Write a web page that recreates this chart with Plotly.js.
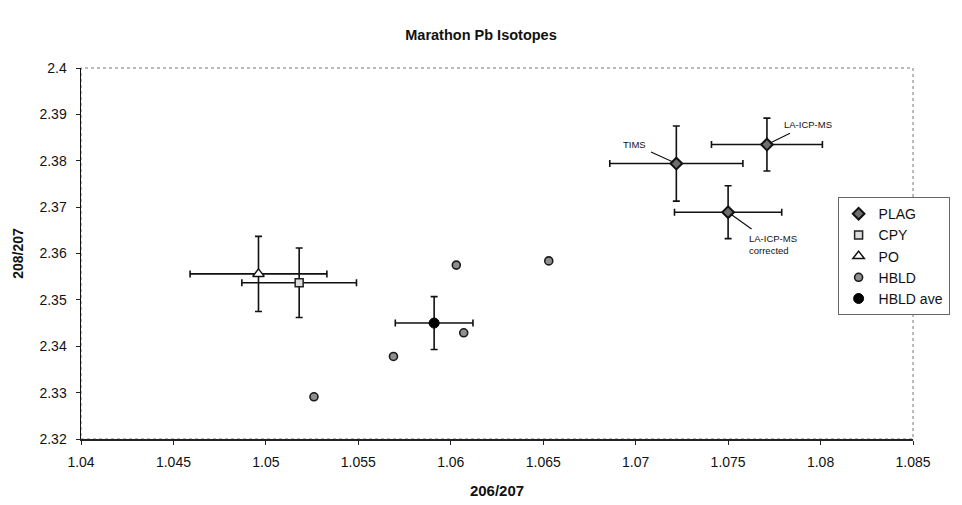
<!DOCTYPE html>
<html>
<head>
<meta charset="utf-8">
<script src="https://cdn.plot.ly/plotly-3.0.1.min.js"></script>
<style>
  html, body { margin: 0; padding: 0; background: #fff; }
  #chart { width: 962px; height: 505px; }
</style>
</head>
<body>
<div id="chart"></div>
<script>
// Pb isotope ratios, 206/207 vs 208/207, with error bars on the mineral analyses.
const plagLabels = ['TIMS', 'LA-ICP-MS', 'LA-ICP-MS<br>corrected'];
const plagX    = [1.0722, 1.0771, 1.0750];
const plagY    = [2.3794, 2.3835, 2.3689];
const plagXErr = [0.0036, 0.0030, 0.0029];
const plagYErr = [0.0081, 0.0057, 0.0057];

const cpyX = [1.0518], cpyY = [2.3537], cpyXErr = [0.0031], cpyYErr = [0.0075];
const poX  = [1.0496], poY  = [2.3556], poXErr  = [0.0037], poYErr  = [0.0081];

const hbldX = [1.0526, 1.0569, 1.0603, 1.0607, 1.0653];
const hbldY = [2.3291, 2.3378, 2.3575, 2.3429, 2.3584];

const hbldAveX = [1.0591], hbldAveY = [2.3450], hbldAveXErr = [0.0021], hbldAveYErr = [0.0057];

const xTicks = [1.04, 1.045, 1.05, 1.055, 1.06, 1.065, 1.07, 1.075, 1.08, 1.085];
const yTicks = [2.32, 2.33, 2.34, 2.35, 2.36, 2.37, 2.38, 2.39, 2.4];

const FONT = 'Arial, "Liberation Sans", sans-serif';

function errBar(arr) {
  return { type: 'data', array: arr, visible: true, color: '#111', thickness: 1.6, width: 3.5 };
}

const traces = [
  {
    name: 'PLAG', legendgroup: 'g1', x: plagX, y: plagY, type: 'scatter', mode: 'markers',
    error_x: errBar(plagXErr), error_y: errBar(plagYErr),
    marker: { symbol: 'diamond', size: 9, color: '#6e6e6e', line: { color: '#111', width: 2 } }
  },
  {
    name: 'CPY', legendgroup: 'g2', x: cpyX, y: cpyY, type: 'scatter', mode: 'markers',
    error_x: errBar(cpyXErr), error_y: errBar(cpyYErr),
    marker: { symbol: 'square', size: 8, color: '#dcdcdc', line: { color: '#222', width: 1.5 } }
  },
  {
    name: 'PO', legendgroup: 'g3', x: poX, y: poY, type: 'scatter', mode: 'markers',
    error_x: errBar(poXErr), error_y: errBar(poYErr),
    marker: { symbol: 'triangle-up', size: 10, color: '#fff', line: { color: '#111', width: 1.5 } }
  },
  {
    name: 'HBLD', legendgroup: 'g4', x: hbldX, y: hbldY, type: 'scatter', mode: 'markers',
    marker: { symbol: 'circle', size: 8, color: '#8f8f8f', line: { color: '#1a1a1a', width: 1.6 } }
  },
  {
    name: 'HBLD ave', legendgroup: 'g5', x: hbldAveX, y: hbldAveY, type: 'scatter', mode: 'markers',
    error_x: errBar(hbldAveXErr), error_y: errBar(hbldAveYErr),
    marker: { symbol: 'circle', size: 10, color: '#000', line: { color: '#000', width: 1 } }
  }
];

// Callout offsets (pixels) for the three plagioclase points
const calloutOffsets = [[-42, -19], [41, -20], [45, 32]];
const calloutAlign = ['center', 'left', 'left'];
const annotations = plagLabels.map((t, i) => ({
  x: plagX[i], y: plagY[i], xref: 'x', yref: 'y',
  text: t, showarrow: true, arrowhead: 0, arrowwidth: 1.2, arrowcolor: '#111',
  ax: calloutOffsets[i][0], ay: calloutOffsets[i][1],
  standoff: 3, startstandoff: 4, align: calloutAlign[i],
  font: { family: FONT, size: 9.5, color: '#111' }
}));

const layout = {
  width: 962, height: 505,
  margin: { l: 81, r: 42, t: 68, b: 66 },
  paper_bgcolor: '#fff', plot_bgcolor: '#fff',
  font: { family: FONT, color: '#111' },
  title: {
    text: '<b>Marathon Pb Isotopes</b>',
    font: { family: FONT, size: 14.5, color: '#111' },
    x: 0.5, xref: 'container', xanchor: 'center',
    y: 1 - 35 / 505, yref: 'container', yanchor: 'middle'
  },
  xaxis: {
    range: [1.04, 1.085], tickvals: xTicks, ticktext: xTicks.map(String),
    showgrid: false, zeroline: false,
    showline: true, linecolor: '#222', linewidth: 1.5,
    ticks: 'outside', ticklen: 4, tickcolor: '#222', ticklabelstandoff: 6,
    tickfont: { family: FONT, size: 14, color: '#111' },
    title: { text: '<b>206/207</b>', font: { family: FONT, size: 15, color: '#111' }, standoff: 16 },
    automargin: false
  },
  yaxis: {
    range: [2.32, 2.4], tickvals: yTicks, ticktext: yTicks.map(String),
    showgrid: false, zeroline: false,
    showline: true, linecolor: '#111', linewidth: 1.5,
    ticks: 'outside', ticklen: 4, tickcolor: '#222', ticklabelstandoff: 6,
    tickfont: { family: FONT, size: 14, color: '#111' },
    title: { text: '<b>208/207</b>', font: { family: FONT, size: 14, color: '#111' }, standoff: 12 },
    automargin: false
  },
  shapes: [
    // dotted frame around the plot area
    { type: 'rect', xref: 'paper', yref: 'paper', x0: 0, x1: 1, y0: 0, y1: 1,
      line: { color: '#777', width: 1, dash: 'dot' }, layer: 'below' }
  ],
  legend: {
    x: 1.044, xanchor: 'right', y: 0.652, yanchor: 'top',
    bgcolor: '#fff', bordercolor: '#666', borderwidth: 1,
    itemwidth: 30, tracegroupgap: 0,
    font: { family: FONT, size: 14, color: '#111' }
  },
  annotations: annotations
};

Plotly.newPlot('chart', traces, layout, { displayModeBar: false, staticPlot: true });
</script>
</body>
</html>
